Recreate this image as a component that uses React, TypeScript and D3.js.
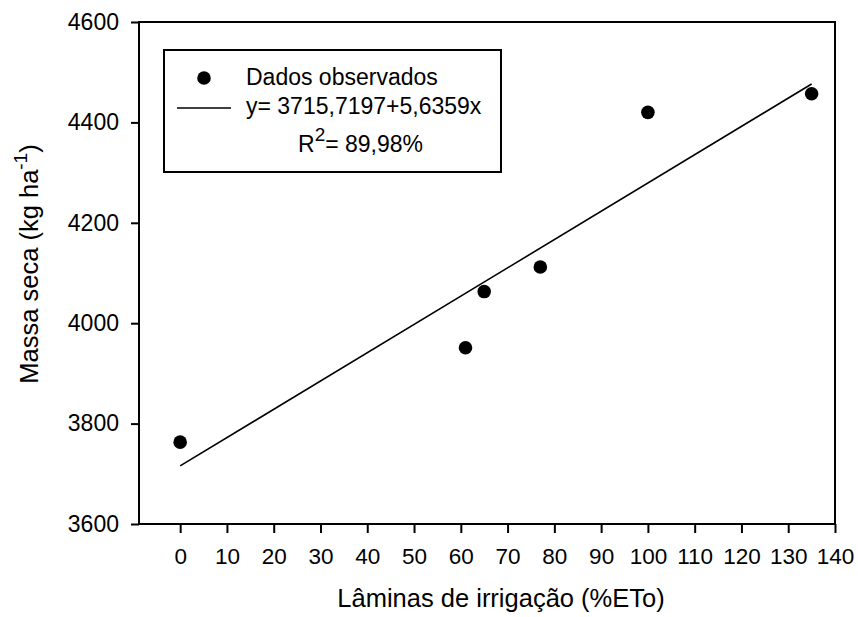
import React, { useEffect, useRef } from 'react';
import * as d3 from 'd3';

// observed data
const laminas = [0, 61, 65, 77, 100, 135];
const massaSeca = [3763, 3951, 4063, 4112, 4420, 4457];

// fitted model y = a + b x
const intercept = 3715.7197;
const slope = 5.6359;

const xTicks = [0, 10, 20, 30, 40, 50, 60, 70, 80, 90, 100, 110, 120, 130, 140];
const yTicks = [3600, 3800, 4000, 4200, 4400, 4600];

export default function App() {
  const ref = useRef<SVGSVGElement>(null);

  useEffect(() => {
    const width = 858;
    const height = 617;
    const left = 139, right = 835, top = 22, bottom = 524;
    const font = 'Liberation Sans, Arial, sans-serif';

    const svg = d3.select(ref.current);
    svg.selectAll('*').remove();

    const x = d3.scaleLinear().domain([-8.8, 140]).range([left, right]);
    const y = d3.scaleLinear().domain([3600, 4600]).range([bottom, top]);

    // frame
    svg.append('rect')
      .attr('x', left).attr('y', top)
      .attr('width', right - left).attr('height', bottom - top)
      .attr('fill', 'none').attr('stroke', '#000').attr('stroke-width', 2);

    // y axis
    const yAxis = svg.append('g')
      .attr('transform', `translate(${left},0)`)
      .call(d3.axisLeft(y).tickValues(yTicks).tickSize(8).tickPadding(12).tickFormat(d3.format('d')));
    yAxis.select('.domain').remove();
    yAxis.selectAll('line').attr('stroke-width', 2);
    yAxis.selectAll('text').attr('font-size', 23).attr('font-family', font).attr('fill', '#000');

    // x axis
    const xAxis = svg.append('g')
      .attr('transform', `translate(0,${bottom})`)
      .call(d3.axisBottom(x).tickValues(xTicks).tickSize(9).tickPadding(15).tickFormat(d3.format('d')));
    xAxis.select('.domain').remove();
    xAxis.selectAll('line').attr('stroke-width', 2);
    xAxis.selectAll('text').attr('font-size', 22.5).attr('font-family', font).attr('fill', '#000');

    // regression line
    const xs = [d3.min(laminas)!, d3.max(laminas)!];
    svg.append('path')
      .attr('d', d3.line<number>().x(d => x(d)).y(d => y(intercept + slope * d))(xs))
      .attr('stroke', '#000').attr('stroke-width', 1.6).attr('fill', 'none');

    // points
    svg.selectAll('circle.pt')
      .data(laminas)
      .enter()
      .append('circle')
      .attr('class', 'pt')
      .attr('cx', d => x(d))
      .attr('cy', (d, i) => y(massaSeca[i]))
      .attr('r', 6.8)
      .attr('fill', '#000');

    // legend
    const lg = svg.append('g');
    lg.append('rect')
      .attr('x', 164).attr('y', 50).attr('width', 337).attr('height', 122)
      .attr('fill', '#fff').attr('stroke', '#000').attr('stroke-width', 2);
    lg.append('circle').attr('cx', 204).attr('cy', 78).attr('r', 6.8).attr('fill', '#000');
    lg.append('text').attr('x', 246).attr('y', 85)
      .attr('font-size', 23).attr('font-family', font).text('Dados observados');
    lg.append('line').attr('x1', 177).attr('x2', 231).attr('y1', 108).attr('y2', 108)
      .attr('stroke', '#000').attr('stroke-width', 1.5);
    lg.append('text').attr('x', 246).attr('y', 114)
      .attr('font-size', 23).attr('font-family', font).text('y= 3715,7197+5,6359x');
    const r2 = lg.append('text').attr('x', 298).attr('y', 152)
      .attr('font-size', 23).attr('font-family', font);
    r2.append('tspan').text('R');
    r2.append('tspan').attr('font-size', 19).attr('dy', -11).text('2');
    r2.append('tspan').attr('dy', 11).text('= 89,98%');

    // axis titles
    svg.append('text')
      .attr('x', 501).attr('y', 607)
      .attr('text-anchor', 'middle')
      .attr('font-size', 25.5).attr('font-family', font)
      .text('Lâminas de irrigação (%ETo)');

    const yt = svg.append('text')
      .attr('transform', `translate(38,264) rotate(-90)`)
      .attr('text-anchor', 'middle')
      .attr('font-size', 25.5).attr('font-family', font);
    yt.append('tspan').text('Massa seca (kg ha');
    yt.append('tspan').attr('font-size', 19).attr('dy', -11).text('-1');
    yt.append('tspan').attr('dy', 11).text(')');

    svg.attr('width', width).attr('height', height);
  }, []);

  return (
    <svg ref={ref} width={858} height={617}
      style={{ position: 'absolute', left: 0, top: 0, background: '#fff' }} />
  );
}
